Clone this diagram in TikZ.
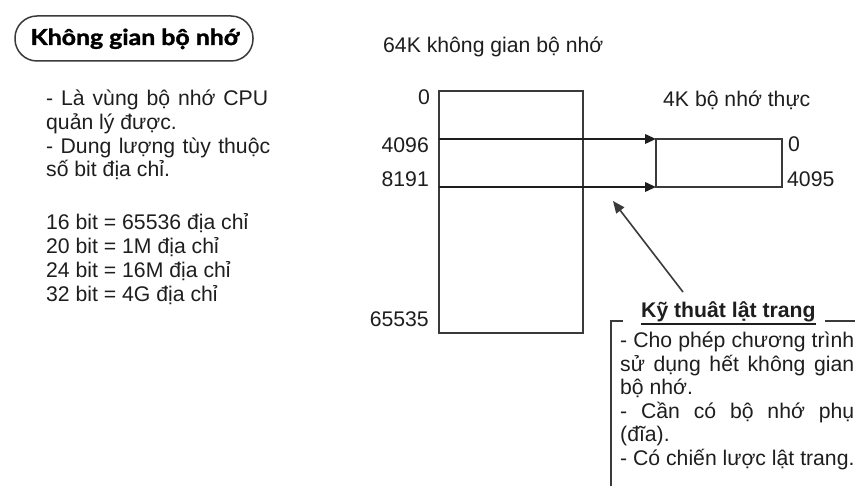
\documentclass[tikz,border=0pt]{standalone}
\usepackage{fontspec}
\setmainfont{Liberation Sans}
\newfontfamily\titlefont[FakeStretch=1.13, BoldFeatures={FakeBold=1.6}]{Lato}
\usetikzlibrary{arrows.meta}
\definecolor{ink}{HTML}{1E1E1E}
\definecolor{edge}{HTML}{3A3A3A}
\tikzset{
  txt/.style={anchor=base west, inner sep=0pt, text=ink, font=\fontsize{21.2}{23.5}\selectfont},
  txtr/.style={anchor=base east, inner sep=0pt, text=ink, font=\fontsize{21.2}{23.5}\selectfont},
  ln/.style={line width=1.5pt, draw=edge},
  boxnode/.style={ln, inner sep=0pt, outer sep=0pt, anchor=north west},
  arr/.style={line width=2pt, draw=ink, -{Triangle[length=11pt,width=9.5pt]}},
  arrthin/.style={line width=1.6pt, draw=edge, -{Triangle[length=12pt,width=10pt]}}
}
\begin{document}
\begin{tikzpicture}[x=1pt,y=-1pt]
\useasboundingbox[fill=white] (0,0) rectangle (855,486);

% title
\node[boxnode, rounded corners=22pt, minimum width=238pt, minimum height=45pt] (titlebox) at (15,16) {};
\node[anchor=base, inner sep=0pt, text=black, font=\titlefont\bfseries\fontsize{22}{24}\selectfont] (title) at (135,45) {Không gian bộ nhớ};

% left text
\node[txt] (l1) at (46,106) {\makebox[222pt][s]{- Là vùng bộ nhớ CPU}};
\node[txt] (l2) at (46,129.6) {quản lý được.};
\node[txt] (l3) at (46,153.2) {\makebox[224pt][s]{- Dung lượng tùy thuộc}};
\node[txt] (l4) at (46,176.8) {số bit địa chỉ.};
\node[txt] (b1) at (46,230) {16 bit = 65536 địa chỉ};
\node[txt] (b2) at (46,254) {20 bit = 1M địa chỉ};
\node[txt] (b3) at (46,278) {24 bit = 16M địa chỉ};
\node[txt] (b4) at (46,302) {32 bit = 4G địa chỉ};

% memory space
\node[txt] (memlabel) at (383,53) {64K không gian bộ nhớ};
\node[boxnode, minimum width=144pt, minimum height=242pt] (mem) at (439,91) {};
\node[txtr] (m0) at (430,105) {0};
\node[txtr] (m4096) at (429,153) {4096};
\node[txtr] (m8191) at (429,187) {8191};
\node[txtr] (m65535) at (429,327) {65535};

% physical memory
\node[txt] (physlabel) at (663,107) {4K bộ nhớ thực};
\node[boxnode, minimum width=126pt, minimum height=48pt] (phys) at (656,139) {};
\node[txt] (p0) at (788,152) {0};
\node[txt] (p4095) at (787,187) {4095};

\draw[arr] (mem.west |- phys.north west) -- (phys.north west);
\draw[arr] (mem.west |- phys.south west) -- (phys.south west);

% paging arrow
\coordinate (ptail) at (683,292);
\coordinate (ptip) at (613,201);
\draw[arrthin] (ptail) -- (ptip);

% paging box
\node[anchor=base west, inner sep=0pt, text=ink, font=\bfseries\fontsize{21.2}{23.5}\selectfont] (pt) at (641,318) {Kỹ thuât lật trang};
\draw[line width=1.8pt, draw=ink] ([yshift=-1.5pt]pt.south west) -- ([yshift=-1.5pt]pt.south east);
\coordinate (pgl) at (623,321);
\coordinate (pgc) at (611,321);
\coordinate (pgb) at (611,486);
\coordinate (pgr1) at (825,321);
\coordinate (pgr2) at (855,321);
\draw[ln] (pgl) -- (pgc) -- (pgb);
\draw[ln] (pgr1) -- (pgr2);

\node[txt] (k1) at (620,348) {\makebox[234pt][s]{- Cho phép chương trình}};
\node[txt] (k2) at (620,371.5) {\makebox[234pt][s]{sử dụng hết không gian}};
\node[txt] (k3) at (620,395) {bộ nhớ.};
\node[txt] (k4) at (620,418.5) {\makebox[234pt][s]{- Cần có bộ nhớ phụ}};
\node[txt] (k5) at (620,442) {(đĩa).};
\node[txt] (k6) at (620,465.5) {- Có chiến lược lật trang.};
\end{tikzpicture}
\end{document}
